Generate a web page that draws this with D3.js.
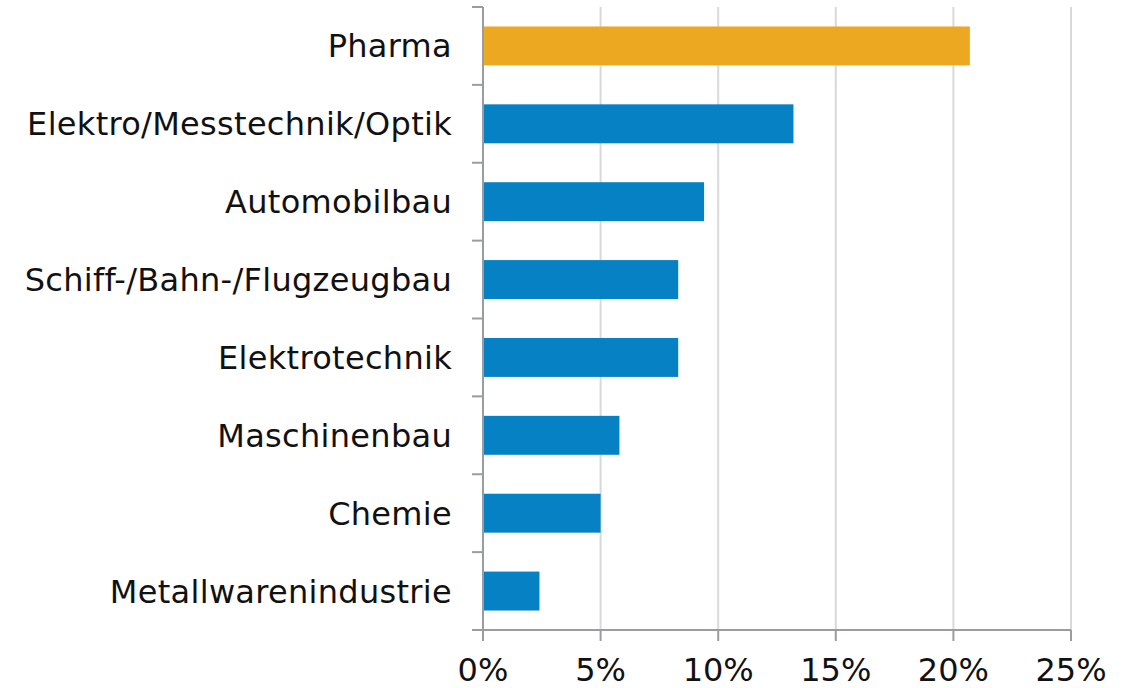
<!DOCTYPE html>
<html>
<head>
<meta charset="utf-8">
<script src="https://cdn.jsdelivr.net/npm/d3@7"></script>
<style>
  body { margin: 0; background: #fff; }
  svg text { font-family: "DejaVu Sans", Verdana, sans-serif; fill: #111; }
</style>
</head>
<body>
<div class="container"></div>
<script>
var categories = [
  'Pharma',
  'Elektro/Messtechnik/Optik',
  'Automobilbau',
  'Schiff-/Bahn-/Flugzeugbau',
  'Elektrotechnik',
  'Maschinenbau',
  'Chemie',
  'Metallwarenindustrie'
]
var values = [20.7, 13.2, 9.4, 8.3, 8.3, 5.8, 5.0, 2.4]
var colors = ['#eca820', '#0681c4', '#0681c4', '#0681c4', '#0681c4', '#0681c4', '#0681c4', '#0681c4']
var xTicks = [0, 5, 10, 15, 20, 25]

var width = 1134, height = 688
var margin = { top: 7, right: 63, bottom: 58, left: 483 }

var svg = d3.select('.container')
  .append('svg')
    .attr('width', width)
    .attr('height', height)

var x = d3.scaleLinear()
  .domain([0, 25])
  .range([margin.left, width - margin.right])

var y = d3.scaleBand()
  .domain(categories)
  .range([margin.top, height - margin.bottom])
  .paddingInner(0.5)
  .paddingOuter(0.25)

var rows = categories.map(function(c, i) { return { cat: c, val: values[i], color: colors[i] } })

// gridlines
svg.append('g')
  .selectAll('line')
  .data(xTicks.slice(1))
  .enter()
  .append('line')
    .attr('x1', function(d) { return x(d) })
    .attr('x2', function(d) { return x(d) })
    .attr('y1', margin.top)
    .attr('y2', height - margin.bottom)
    .attr('stroke', '#d9d9d9')
    .attr('stroke-width', 2)

// bars
svg.append('g')
  .selectAll('rect')
  .data(rows)
  .enter()
  .append('rect')
    .attr('x', x(0))
    .attr('y', function(d) { return y(d.cat) })
    .attr('width', function(d) { return x(d.val) - x(0) })
    .attr('height', y.bandwidth())
    .attr('fill', function(d) { return d.color })

// y axis
var yTickPos = d3.range(categories.length + 1).map(function(i) {
  return margin.top + i * (height - margin.bottom - margin.top) / categories.length
})
var yAxis = svg.append('g')
yAxis.append('line')
  .attr('x1', x(0)).attr('x2', x(0))
  .attr('y1', margin.top).attr('y2', height - margin.bottom)
  .attr('stroke', '#9a9ca4').attr('stroke-width', 2)
yAxis.selectAll('line.tick')
  .data(yTickPos)
  .enter()
  .append('line')
    .attr('class', 'tick')
    .attr('x1', x(0) - 11).attr('x2', x(0))
    .attr('y1', function(d) { return d }).attr('y2', function(d) { return d })
    .attr('stroke', '#9a9ca4').attr('stroke-width', 2)
yAxis.selectAll('text')
  .data(categories)
  .enter()
  .append('text')
    .attr('x', x(0) - 31)
    .attr('y', function(d) { return y(d) + y.bandwidth() / 2 })
    .attr('dy', '0.36em')
    .attr('text-anchor', 'end')
    .style('font-size', '32px')
    .style('letter-spacing', '0.3px')
    .text(function(d) { return d })

// x axis
var xAxis = svg.append('g')
xAxis.append('line')
  .attr('x1', x(0) - 11).attr('x2', x(25))
  .attr('y1', height - margin.bottom).attr('y2', height - margin.bottom)
  .attr('stroke', '#9a9ca4').attr('stroke-width', 2)
xAxis.selectAll('line.tick')
  .data(xTicks)
  .enter()
  .append('line')
    .attr('class', 'tick')
    .attr('x1', function(d) { return x(d) }).attr('x2', function(d) { return x(d) })
    .attr('y1', height - margin.bottom).attr('y2', height - margin.bottom + 11)
    .attr('stroke', '#9a9ca4').attr('stroke-width', 2)
xAxis.selectAll('text')
  .data(xTicks)
  .enter()
  .append('text')
    .attr('x', function(d) { return x(d) })
    .attr('y', 681)
    .attr('text-anchor', 'middle')
    .style('font-size', '32px')
    .text(function(d) { return d + '%' })
</script>
</body>
</html>
